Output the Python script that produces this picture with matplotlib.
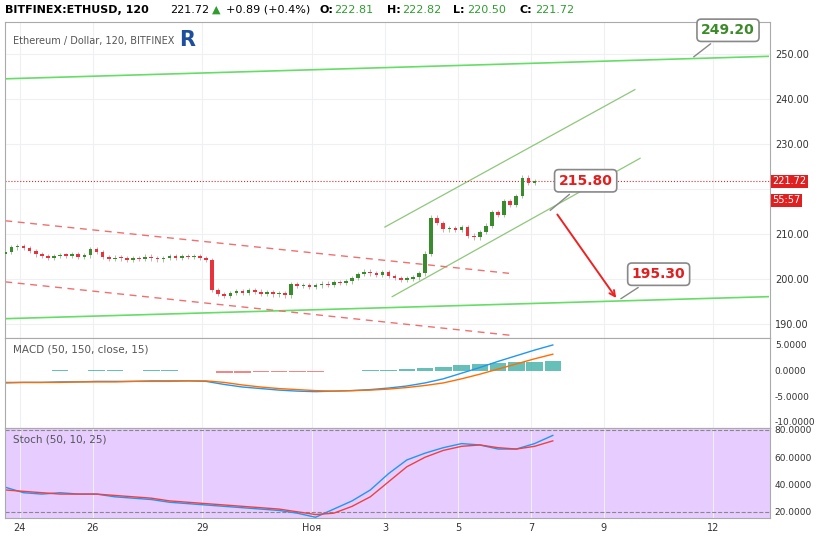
import numpy as np
import matplotlib.pyplot as plt

# 4h candles, x in days since Oct 24
closes = [206.0, 207.0, 207.2, 206.8, 206.2,
          205.4, 205.0, 204.6, 205.0, 205.3, 205.1, 205.4, 204.9, 205.2,
          206.6, 206.0, 204.8, 204.4, 204.7, 204.5, 204.2, 204.6, 204.4, 204.9,
          204.5, 204.3, 204.6, 205.0, 204.7, 205.1, 204.8, 205.0, 204.6, 204.2,
          197.5, 196.6, 196.2, 196.8, 197.2, 196.9, 197.4, 197.1, 196.6, 197.0, 196.5, 196.8, 196.3,
          198.8, 198.4, 198.6, 198.2, 198.5, 198.9, 198.6, 199.3, 199.0, 199.4, 200.2,
          201.0, 201.6, 201.2, 200.9, 201.4, 200.6,
          200.1, 199.8, 200.0, 200.3,
          201.2, 205.6, 213.6,
          212.4, 211.0, 211.3, 210.8, 211.5, 209.6, 209.2, 210.4,
          211.8, 214.8, 214.2, 217.2, 216.4, 218.4, 222.5, 221.3, 221.72]
x0 = -0.4
step = 1 / 6
day_pos = [0, 2, 5, 8, 10, 12, 14, 16, 19]
day_lab = ['24', '26', '29', 'Ноя', '3', '5', '7', '9', '12']
price_ticks = [190, 200, 210, 220, 230, 240, 250]

# trend lines: (x1, y1, x2, y2)
green_long = [(-0.4, 244.5, 20.5, 249.5), (-0.4, 191.1, 20.5, 196.0)]
green_channel = [(10.0, 211.5, 16.85, 242.1), (10.2, 196.0, 16.99, 226.8)]
red_dashed = [(-0.4, 212.9, 13.4, 201.2), (-0.4, 199.3, 13.56, 187.3)]
last_price = 221.72

# MACD / Stoch sampled every half day from x=-0.4
ind_x0 = -0.4
ind_step = 0.5
macd_line = [-2.4, -2.3, -2.3, -2.2, -2.2, -2.1, -2.1, -2.1, -2.0, -2.0, -2.0, -2.1, -2.7, -3.2,
             -3.5, -3.8, -4.0, -4.1, -4.0, -3.9, -3.7, -3.4, -3.0, -2.4, -1.6, -0.5, 0.6, 1.8,
             2.9, 4.0, 5.0]
signal_line = [-2.3, -2.3, -2.3, -2.3, -2.2, -2.2, -2.2, -2.1, -2.1, -2.1, -2.0, -2.0, -2.3, -2.8,
               -3.2, -3.5, -3.7, -3.9, -4.0, -3.9, -3.8, -3.6, -3.3, -2.9, -2.4, -1.6, -0.7, 0.3,
               1.3, 2.3, 3.2]
stoch_k = [38, 34, 33, 34, 33, 33, 31, 30, 29, 27, 26, 25, 24, 23, 22, 21, 19, 16, 22, 28,
           36, 48, 58, 63, 67, 70, 69, 66, 66, 70, 76]
stoch_d = [36, 35, 34, 33, 33, 33, 32, 31, 30, 28, 27, 26, 25, 24, 23, 22, 20, 18, 19, 24,
           31, 42, 53, 60, 65, 68, 69, 67, 66, 68, 72]

fig = plt.figure(figsize=(8.2, 5.55), dpi=100)
ax = fig.add_axes([0.006, 0.391, 0.933, 0.569])
axm = fig.add_axes([0.006, 0.229, 0.933, 0.162], sharex=ax)
axs = fig.add_axes([0.006, 0.067, 0.933, 0.162], sharex=ax)
grid_c = '#eef0f3'

for a in (ax, axm, axs):
    a.yaxis.tick_right()
    a.tick_params(labelsize=7, length=0, colors='#333333')
    for s in a.spines.values():
        s.set_color('#aaaaaa')
    for d in day_pos:
        a.axvline(d, color=grid_c, lw=0.8, zorder=0)

# candles
prev = closes[0] - 0.6
for i, c in enumerate(closes):
    x = x0 + i * step
    o = prev
    col = '#3a8a2e' if c >= o else '#e8323c'
    ax.vlines(x, min(o, c) - 0.5, max(o, c) + 0.5, color='#c9a0a8' if c < o else '#9ab98f', lw=0.6, zorder=3)
    ax.bar(x, max(abs(c - o), 0.3), bottom=min(o, c), width=step * 0.6, color=col, zorder=4)
    prev = c

for x1, y1, x2, y2 in green_long:
    ax.plot([x1, x2], [y1, y2], color='#66dd66', lw=1.2, zorder=2)
for x1, y1, x2, y2 in green_channel:
    ax.plot([x1, x2], [y1, y2], color='#8fc77a', lw=0.9, zorder=2)
for x1, y1, x2, y2 in red_dashed:
    ax.plot([x1, x2], [y1, y2], color='#f07070', lw=1.0, ls=(0, (5, 4)), zorder=2)
ax.axhline(last_price, color='#d03030', lw=0.8, ls=':', zorder=2)
ax.annotate('', xy=(16.38, 195.2), xytext=(14.68, 214.8),
            arrowprops=dict(arrowstyle='->', color='#ee2222', lw=1.4))

for txt, xy, xt, col in [('249.20', (18.4, 249.0), (19.4, 255.3), '#3d8a2a'),
                         ('215.80', (14.47, 214.8), (15.5, 221.8), '#e02020'),
                         ('195.30', (16.4, 195.2), (17.5, 201.0), '#e02020')]:
    ax.annotate(txt, xy=xy, xytext=xt, ha='center', va='center', fontsize=10,
                fontweight='bold', color=col, zorder=6,
                bbox=dict(boxstyle='round,pad=0.3', fc='white', ec='#888888', lw=1.2),
                arrowprops=dict(arrowstyle='-', color='#888888', lw=1.0))

ax.set_ylim(186.8, 257.1)
ax.set_yticks(price_ticks)
# 220 label sits under the last-price tag
ax.set_yticklabels(['' if p == 220 else f'{p:.2f}' for p in price_ticks])
for p in price_ticks:
    ax.axhline(p, color=grid_c, lw=0.8, zorder=0)
ax.text(1.003, last_price, f'{last_price:.2f}', transform=ax.get_yaxis_transform(), fontsize=7,
        color='white', va='center', bbox=dict(boxstyle='square,pad=0.15', fc='#e02020', ec='none'))
ax.text(1.003, last_price - 4.3, '55:57', transform=ax.get_yaxis_transform(), fontsize=7,
        color='white', va='center', bbox=dict(boxstyle='square,pad=0.15', fc='#e02020', ec='none'))
ax.text(0.01, 0.955, 'Ethereum / Dollar, 120, BITFINEX', transform=ax.transAxes, fontsize=7,
        color='#555555', va='top')
ax.text(0.228, 0.975, 'R', transform=ax.transAxes, fontsize=15, fontweight='bold',
        color='#1d4f9c', va='top')

fig.text(0.006, 0.982, 'BITFINEX:ETHUSD, 120', fontsize=8, fontweight='bold', va='center')
fig.text(0.207, 0.982, '221.72', fontsize=8, va='center')
fig.text(0.258, 0.982, '▲', fontsize=8, color='#2e9e2e', va='center')
fig.text(0.276, 0.982, '+0.89 (+0.4%)', fontsize=8, va='center')
hdr = [('O:', '222.81', 0.39), ('H:', '222.82', 0.472), ('L:', '220.50', 0.552), ('C:', '221.72', 0.634)]
for k, v, xf in hdr:
    fig.text(xf, 0.982, k, fontsize=8, fontweight='bold', va='center')
    fig.text(xf + 0.018, 0.982, v, fontsize=8, color='#2e9e2e', va='center')

# MACD
ix = ind_x0 + ind_step * np.arange(len(macd_line))
hist = np.array(macd_line) - np.array(signal_line)
hcol = ['#26a69a' if h >= 0 else '#ef5350' for h in hist]
axm.bar(ix, hist, width=ind_step * 0.9, color=hcol, alpha=0.7, zorder=2)
axm.plot(ix, macd_line, color='#2196f3', lw=1)
axm.plot(ix, signal_line, color='#ff6d00', lw=1)
axm.set_ylim(-11.17, 6.36)
macd_ticks = [5, 0, -5, -10]
axm.set_yticks(macd_ticks)
axm.set_yticklabels([f'{t:.4f}' for t in macd_ticks], fontsize=6.5)
axm.text(0.01, 0.93, 'MACD (50, 150, close, 15)', transform=axm.transAxes, fontsize=7.5,
         color='#555555', va='top')

# Stoch
axs.set_facecolor('#e6ccff')
axs.axhline(80, color='#888888', lw=0.8, ls='--')
axs.axhline(20, color='#888888', lw=0.8, ls='--')
axs.plot(ix, stoch_k, color='#2196f3', lw=1)
axs.plot(ix, stoch_d, color='#f04040', lw=1)
axs.set_ylim(15.6, 81.5)
stoch_ticks = [20, 40, 60, 80]
axs.set_yticks(stoch_ticks)
axs.set_yticklabels([f'{t}.0000' for t in stoch_ticks], fontsize=6.5)
axs.text(0.01, 0.93, 'Stoch (50, 10, 25)', transform=axs.transAxes, fontsize=7.5,
         color='#555555', va='top')

axs.set_xlim(-0.41, 20.55)
axs.set_xticks(day_pos)
axs.set_xticklabels(day_lab)
plt.setp(ax.get_xticklabels(), visible=False)
plt.setp(axm.get_xticklabels(), visible=False)

fig.savefig('out.png', dpi=100)
